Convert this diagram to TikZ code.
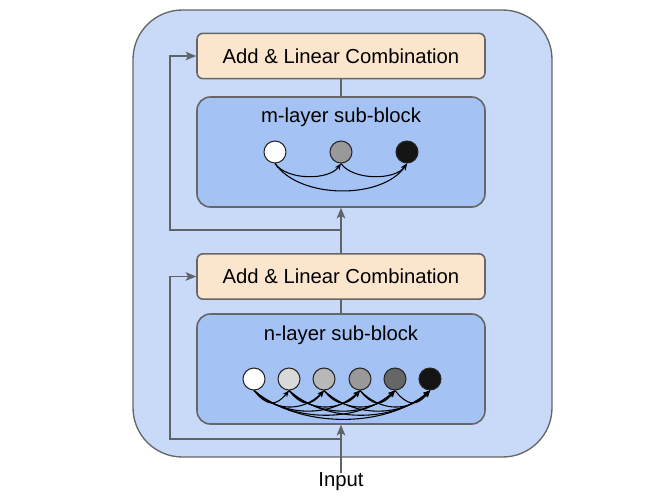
\documentclass[tikz,border=0pt]{standalone}
\usepackage{fontspec}
\setmainfont{Liberation Sans}
\usetikzlibrary{arrows.meta}
\definecolor{outerfill}{HTML}{C9DAF8}
\definecolor{blockfill}{HTML}{A4C2F4}
\definecolor{addfill}{HTML}{FCE5CD}
\definecolor{edge}{HTML}{666666}
\definecolor{linec}{HTML}{5F6368}
\begin{document}
\begin{tikzpicture}[x=0.75pt,y=-0.75pt,
  outerbox/.style={draw=edge,line width=1pt,fill=outerfill,rounded corners=37pt,minimum width=314.25pt,minimum height=335.25pt,inner sep=0pt},
  addbox/.style={draw=edge,line width=1.2pt,fill=addfill,rounded corners=4.5pt,minimum width=216pt,minimum height=34pt,inner sep=0pt,font=\fontsize{15.2}{18}\selectfont},
  subblock/.style={draw=edge,line width=1.2pt,fill=blockfill,rounded corners=10pt,minimum width=216pt,minimum height=82.5pt,inner sep=0pt},
  lbl/.style={font=\fontsize{15.2}{18}\selectfont,inner sep=0pt},
  dot/.style={circle,draw=black!85,line width=0.8pt,minimum size=16.5pt,inner sep=0pt},
  conn/.style={draw=linec,line width=1.2pt},
  connarrow/.style={conn,-{Stealth[length=8pt,width=6.5pt,inset=2pt]}},
  arc/.style={draw=black,line width=0.8pt,-{Stealth[length=5pt,width=4pt]}}]
\useasboundingbox (0,0) rectangle (651,501);
\node[outerbox] (outer) at (342.5,233.5) {};
% upper part
\node[addbox] (addt) at (341,56) {Add \& Linear Combination};
\node[subblock] (mblock) at (341,152) {};
\node[lbl] (mlbl) at (341,117) {m-layer sub-block};
\node[dot,fill=white] (m1) at (275,152) {};
\node[dot,fill=black!40] (m2) at (341,152) {};
\node[dot,fill=black!92] (m3) at (407,152) {};
\draw[arc] (m1.south) .. controls +(12,17) and +(-12,17) .. (m2.south);
\draw[arc] (m2.south) .. controls +(12,17) and +(-12,17) .. (m3.south);
\draw[arc] (m1.south) .. controls +(25,36) and +(-25,36) .. (m3.south);
% lower part
\node[addbox] (addb) at (341,276.5) {Add \& Linear Combination};
\node[subblock] (nblock) at (341,369) {};
\node[lbl] (nlbl) at (341,335) {n-layer sub-block};
\node[dot,fill=white] (n1) at (254,379) {};
\node[dot,fill=black!15] (n2) at (289,379) {};
\node[dot,fill=black!28] (n3) at (324,379) {};
\node[dot,fill=black!40] (n4) at (360,379) {};
\node[dot,fill=black!60] (n5) at (395,379) {};
\node[dot,fill=black!92] (n6) at (430,379) {};
\foreach \i in {1,...,5} {
  \pgfmathtruncatemacro\s{\i+1}
  \foreach \j in {\s,...,6} {
    \pgfmathsetmacro\d{16+5.5*(\j-\i-1)}
    \pgfmathsetmacro\a{5+8*(\j-\i)}
    \draw[arc] (n\i.south) .. controls +(\a,\d) and +(-\a,\d) .. (n\j.south);
  }
}
% input and connectors
\node[lbl] (input) at (341,482) {Input};
\draw[connarrow] (input.north) -- (nblock.south);
\draw[conn] (nblock.north) -- (addb.south);
\draw[connarrow] (addb.north) -- (mblock.south);
\draw[conn] (mblock.north) -- (addt.south);
\coordinate (f1) at (341,439);
\coordinate (k1) at (170,276.5);
\draw[connarrow] (f1) -| (k1) -- (addb.west);
\coordinate (f2) at (341,230);
\coordinate (k2) at (170,56);
\draw[connarrow] (f2) -| (k2) -- (addt.west);
\end{tikzpicture}
\end{document}
